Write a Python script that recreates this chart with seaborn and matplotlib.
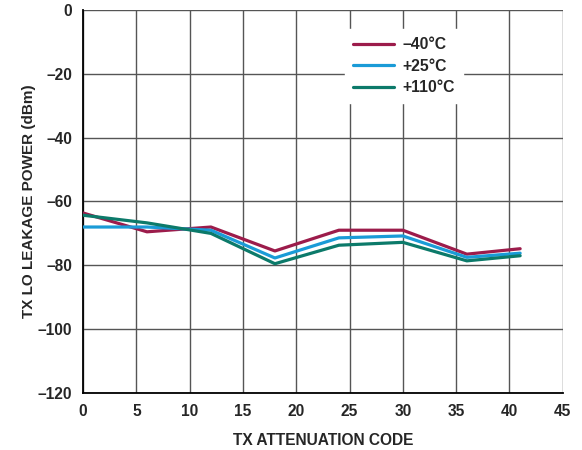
import matplotlib
matplotlib.use("Agg")
import matplotlib.pyplot as plt
import seaborn as sns
import pandas as pd

codes = [0, 6, 12, 18, 24, 30, 36, 41]
m40 = [-63.6, -69.5, -68.0, -75.5, -69.0, -69.0, -76.5, -74.8]
p25 = [-68.0, -68.0, -69.0, -77.7, -71.4, -70.8, -77.5, -76.2]
p110 = [-64.3, -66.7, -70.0, -79.5, -73.7, -72.8, -78.6, -77.0]
labels = ["\u201340\u00b0C", "+25\u00b0C", "+110\u00b0C"]
colors = ["#9C1C4B", "#1A9BD7", "#0C7A6A"]
yticks = [-120, -100, -80, -60, -40, -20, 0]
yticklabels = ["\u2013120", "\u2013100", "\u201380", "\u201360", "\u201340", "\u201320", "0"]

rows = []
for lab, ser in zip(labels, [m40, p25, p110]):
    for c, v in zip(codes, ser):
        rows.append({"code": c, "power": v, "temp": lab})
df = pd.DataFrame(rows)

sns.set_style("white")
plt.rcParams["font.family"] = ["Liberation Sans", "DejaVu Sans"]
plt.rcParams["font.weight"] = "bold"

fig = plt.figure(figsize=(5.82, 4.5), dpi=100)
ax = fig.add_axes([0.1426, 0.1267, 0.8244, 0.8511])
sns.lineplot(data=df, x="code", y="power", hue="temp", palette=colors,
             hue_order=labels, linewidth=2.3, ax=ax, zorder=3)
ax.set_xlim(0, 45)
ax.set_ylim(-120, 0)
ax.set_xticks(range(0, 46, 5))
ax.set_yticks(yticks)
ax.set_yticklabels(yticklabels)
ax.grid(True, color="#555555", linewidth=1.0)
ax.set_axisbelow(True)
for s in ["top", "right"]:
    ax.spines[s].set_visible(False)
for s in ["left", "bottom"]:
    ax.spines[s].set_color("black")
    ax.spines[s].set_linewidth(1.3)
ax.tick_params(axis="both", labelsize=11.2, length=0)
ax.tick_params(axis="x", pad=8)
ax.tick_params(axis="y", pad=8)
for t in ax.get_xticklabels() + ax.get_yticklabels():
    t.set_fontweight("bold")
ax.set_xlabel("TX ATTENUATION CODE", fontsize=11.2, fontweight="bold", labelpad=10)
ax.set_ylabel("TX LO LEAKAGE POWER (dBm)", fontsize=11.0, fontweight="bold", labelpad=1)
leg = ax.legend(loc="upper left", bbox_to_anchor=(0.53, 0.97), frameon=True,
                fontsize=11.3, handlelength=2.6, borderpad=0.5, labelspacing=0.42,
                handletextpad=0.55)
leg.get_frame().set_edgecolor("white")
leg.get_frame().set_facecolor("white")
leg.get_frame().set_alpha(1)
for t in leg.get_texts():
    t.set_fontweight("bold")
fig.savefig("out.png", dpi=100)
